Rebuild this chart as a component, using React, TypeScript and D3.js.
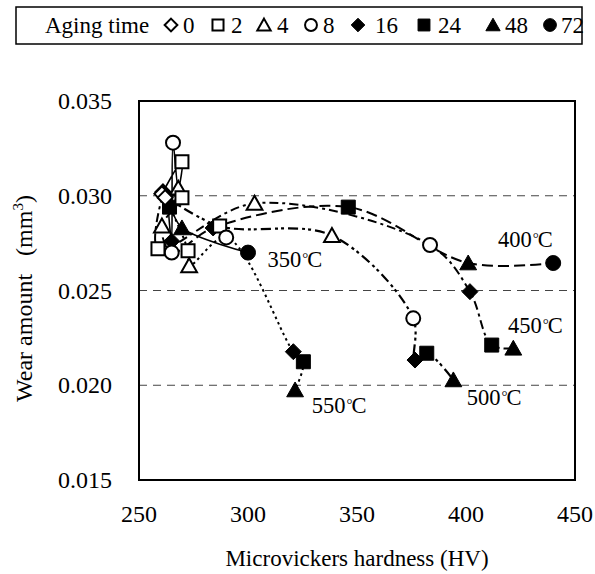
import React from "react";
import * as d3 from "d3";

// ---- Data ----
const agingTimes = [0, 2, 4, 8, 16, 24, 48, 72];
const tempValues = ["350", "400", "450", "500", "550"];

const hv350 = [261, 269.7, 268, 265.6, 265, 264, 269.7, 300];
const wear350 = [0.0302, 0.0318, 0.0304, 0.0328, 0.0276, 0.0294, 0.0283, 0.027];

const hv400 = [262, 269.7, 260.5, 265, 284, 346, 401, 440];
const wear400 = [0.03, 0.0299, 0.0284, 0.027, 0.0283, 0.0294, 0.02645, 0.02645];

const hv450 = [261, 258.7, 303, 383.5, 401.8, 411.8, 421.7];
const wear450 = [0.0301, 0.0272, 0.0296, 0.0274, 0.02494, 0.02212, 0.02195];

const hv500 = [260.5, 287, 338.5, 375.8, 376.6, 382, 394.2];
const wear500 = [0.0301, 0.0284, 0.0279, 0.02353, 0.02133, 0.02169, 0.02028];

const hv550 = [262, 272.5, 273, 290, 320.8, 325.4, 321.6];
const wear550 = [0.0299, 0.0271, 0.0263, 0.0278, 0.02177, 0.02124, 0.01975];

const xTicks = [250, 300, 350, 400, 450];
const yTicks = [0.015, 0.02, 0.025, 0.03, 0.035];
const gridValues = [0.02, 0.025, 0.03];

const seriesHV = [hv350, hv400, hv450, hv500, hv550];
const seriesWear = [wear350, wear400, wear450, wear500, wear550];
const dashes = ["none", "11,5", "9,4,3,4", "10,4,3,3,3,4", "2.5,3.5"];
const lineWidths = [1.6, 2, 2, 2.2, 2];

const labelHV = [309, 414.7, 419.3, 400.3, 329.2];
const labelWear = [0.02624, 0.0273, 0.02276, 0.01896, 0.01854];

const FONT = "'Liberation Serif', 'Times New Roman', serif";

function markerPath(idx: number, cx: number, cy: number, legend = false): { d: string; filled: boolean } {
  const shape = idx % 4; // 0 diamond, 1 square, 2 triangle, 3 circle
  const filled = idx >= 4;
  const k = legend ? 0.85 : 1;
  const p = d3.path();
  if (shape === 0) {
    const r = (filled ? 8 : 7.5) * k;
    p.moveTo(cx, cy - r);
    p.lineTo(cx + r, cy);
    p.lineTo(cx, cy + r);
    p.lineTo(cx - r, cy);
    p.closePath();
  } else if (shape === 1) {
    const h = (filled ? 7 : 6.5) * k;
    p.rect(cx - h, cy - h, 2 * h, 2 * h);
  } else if (shape === 2) {
    const h = (filled ? 8 : 7.5) * k;
    p.moveTo(cx, cy - h);
    p.lineTo(cx + h * 1.05, cy + h * 0.85);
    p.lineTo(cx - h * 1.05, cy + h * 0.85);
    p.closePath();
  } else {
    const r = (filled ? 7.5 : 7) * k;
    p.moveTo(cx + r, cy);
    p.arc(cx, cy, r, 0, Math.PI * 2);
    p.closePath();
  }
  return { d: p.toString(), filled };
}

export default function App() {
  const W = 595;
  const H = 574;
  const left = 139,
    right = 575,
    top = 101,
    bottom = 480;
  const x = d3.scaleLinear().domain([250, 450]).range([left, right]);
  const y = d3.scaleLinear().domain([0.015, 0.035]).range([bottom, top]);

  const line = d3
    .line<[number, number]>()
    .x((d) => x(d[0]))
    .y((d) => y(d[1]))
    .curve(d3.curveCatmullRom.alpha(0.5));

  const legendItems = [
    { cx: 171, tx: 183 },
    { cx: 218, tx: 231 },
    { cx: 264, tx: 277 },
    { cx: 311, tx: 323 },
    { cx: 358, tx: 375 },
    { cx: 424, tx: 438 },
    { cx: 493, tx: 505 },
    { cx: 550, tx: 561 },
  ];

  return (
    <svg
      width={W}
      height={H}
      style={{ position: "absolute", left: 0, top: 0, background: "#fff" }}
      fontFamily={FONT}
    >
      <rect x={0} y={0} width={W} height={H} fill="#fff" />
      {/* Legend */}
      <rect x={16} y={7} width={566} height={37} fill="#fff" stroke="#000" strokeWidth={1.5} />
      <text x={45} y={33} fontSize={23} fill="#000">
        Aging time
      </text>
      {agingTimes.map((t, i) => {
        const m = markerPath(i, legendItems[i].cx, 25, true);
        return (
          <g key={"lg" + t}>
            <path d={m.d} fill={m.filled ? "#000" : "#fff"} stroke="#000" strokeWidth={m.filled ? 1 : 2} />
            <text x={legendItems[i].tx} y={33} fontSize={23} fill="#000">
              {t}
            </text>
          </g>
        );
      })}

      {/* Grid */}
      {gridValues.map((v) => (
        <line
          key={"g" + v}
          x1={left}
          x2={right}
          y1={y(v)}
          y2={y(v)}
          stroke="#444"
          strokeWidth={1}
          strokeDasharray="8,6"
        />
      ))}

      {/* Lines */}
      {seriesHV.map((hv, s) => {
        const pts: [number, number][] = hv.map((h, i) => [h, seriesWear[s][i]]);
        return (
          <path
            key={"l" + s}
            d={line(pts) || ""}
            fill="none"
            stroke="#000"
            strokeWidth={lineWidths[s]}
            strokeDasharray={dashes[s]}
          />
        );
      })}

      {/* Markers */}
      {seriesHV.map((hv, s) =>
        hv.map((h, i) => {
          const m = markerPath(i, x(h), y(seriesWear[s][i]));
          return (
            <path
              key={"m" + s + "-" + i}
              d={m.d}
              fill={m.filled ? "#000" : "#fff"}
              stroke="#000"
              strokeWidth={m.filled ? 1 : 2}
            />
          );
        })
      )}

      {/* Temperature labels */}
      {tempValues.map((t, s) => (
        <text key={"t" + s} x={x(labelHV[s])} y={y(labelWear[s])} fontSize={22.5} fill="#000">
          {t}
          <tspan dx={1} dy={-4} fontSize={15}>°</tspan>
          <tspan dx={-1} dy={4}>C</tspan>
        </text>
      ))}

      {/* Frame */}
      <rect x={left} y={top} width={right - left} height={bottom - top} fill="none" stroke="#000" strokeWidth={2} />

      {/* Y ticks */}
      {yTicks.map((v) => (
        <text key={"yt" + v} x={112} y={y(v) + 8} textAnchor="end" fontSize={24} fill="#000">
          {v.toFixed(3)}
        </text>
      ))}
      {/* X ticks */}
      {xTicks.map((v) => (
        <text key={"xt" + v} x={x(v)} y={522} textAnchor="middle" fontSize={24} fill="#000">
          {v}
        </text>
      ))}

      <text x={(left + right) / 2} y={566} textAnchor="middle" fontSize={23} fill="#000">
        Microvickers hardness (HV)
      </text>
      <text
        transform={`translate(32, ${(top + bottom) / 2 + 8}) rotate(-90)`}
        textAnchor="middle"
        fontSize={24}
        fill="#000"
      >
        Wear amount{"\u00a0\u00a0\u00a0"}(mm<tspan dy={-9} fontSize={15}>3</tspan>
        <tspan dy={9}>)</tspan>
      </text>
    </svg>
  );
}
